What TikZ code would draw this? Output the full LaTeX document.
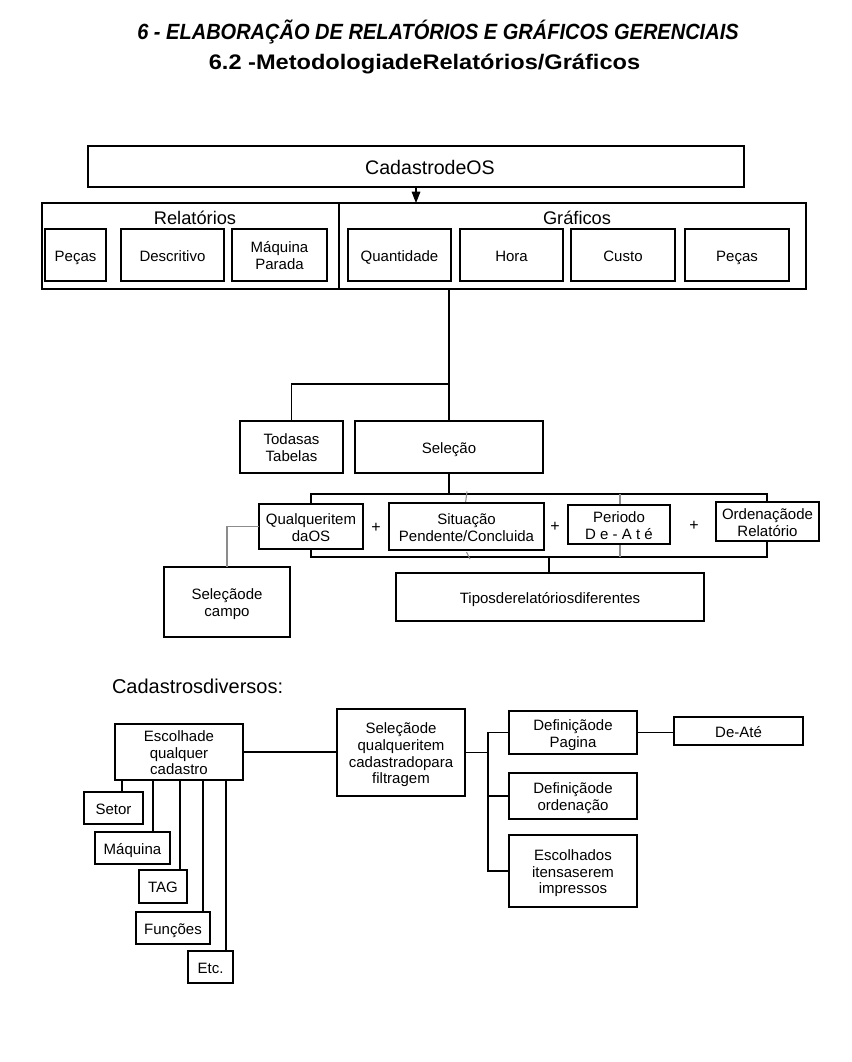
\documentclass[tikz,border=0pt]{standalone}
\usepackage{fontspec}
\setmainfont{Liberation Sans}
\usetikzlibrary{arrows.meta,calc}
\newcommand{\topstrut}{\rule{0pt}{12.2pt}}
\newcommand{\botstrut}{\rule[-3pt]{0pt}{3pt}}
\tikzset{
  box/.style={draw, fill=white, line width=0.8pt, inner sep=0pt, outer sep=0pt, align=center,
    font=\fontsize{11.25}{12.6}\selectfont},
  ln/.style={line width=0.8pt},
  gln/.style={line width=0.8pt, draw=black!45},
  lbl/.style={inner sep=0pt, outer sep=0pt},
}
\newcommand{\bx}[6]{%
  \pgfmathsetmacro\bxw{(#4-#2)*0.75}%
  \pgfmathsetmacro\bxh{(#5-#3)*0.75}%
  \node[box, minimum width=\bxw pt, minimum height=\bxh pt] (#1) at ({(#2+#4)/2},{(#3+#5)/2}) {\topstrut#6\botstrut};}
\begin{document}
\begin{tikzpicture}[x=0.75pt, y=-0.75pt]
\useasboundingbox[fill=white] (0,0) rectangle (851,1062);

% titles
\node[lbl, anchor=base, font=\fontsize{16.5}{18}\selectfont\bfseries\itshape] (t1) at (438,40)
  {\scalebox{0.91}[1]{6 - ELABORAÇÃO DE RELATÓRIOS E GRÁFICOS GERENCIAIS}};
\node[lbl, anchor=base, font=\fontsize{15.8}{18}\selectfont\bfseries] (t2) at (424.5,70)
  {\scalebox{1.12}[1]{6.2 -MetodologiadeRelatórios/Gráficos}};

% top part
\bx{cad}{88}{146}{744}{187}{}
\node[lbl, font=\fontsize{14.7}{16}\selectfont] (cadt) at (430,167) {CadastrodeOS};
\bx{big}{42}{203}{806}{289}{}
\coordinate (dv) at (339,203);
\draw[ln] (dv) -- (dv |- big.south);
\coordinate (ar) at (416,187);
\draw[ln, -{Triangle[width=6.5pt,length=8.5pt]}] (ar) -- (ar |- big.north);
\node[lbl, font=\fontsize{13.7}{15}\selectfont] (rel) at (195,218) {Relatórios};
\node[lbl, font=\fontsize{13.7}{15}\selectfont] (gra) at (577,218) {Gráficos};
\bx{p1}{45}{229}{106}{281}{Peças}
\bx{desc}{121}{229}{224}{281}{Descritivo}
\bx{maq}{232}{229}{327}{281}{Máquina\\Parada}
\bx{quant}{348}{229}{451}{281}{Quantidade}
\bx{hora}{460}{229}{563}{281}{Hora}
\bx{custo}{571}{229}{675}{281}{Custo}
\bx{p2}{685}{229}{789}{281}{Peças}

% middle part
\bx{todas}{240}{421}{343}{473}{Todasas\\Tabelas}
\bx{sel}{355}{421}{543}{473}{Seleção}
\coordinate (jct) at (449,384);
\draw[ln] (sel.north |- big.south) -- (sel.north);
\draw[ln] (jct) -| (todas.north);

\node[draw, line width=0.8pt, inner sep=0pt, outer sep=0pt, minimum width=342pt, minimum height=47.25pt] (grp) at (539,525.5) {};
\draw[ln] (sel.south) -- (sel.south |- grp.north);
\coordinate (pl) at (620,494);
\draw[gln] (pl) -- (pl |- grp.south);
\draw[gln] (467,491.5) -- (465.5,503);
\draw[gln] (466.5,552) -- (470,559);

\bx{qual}{259}{504}{363}{549}{Qualqueritem\\daOS}
\bx{sit}{389}{503}{544}{550}{Situação\\Pendente/Concluida}
\bx{per}{568}{505}{670}{544}{Periodo\\D e - A t é}
\bx{ord}{716}{502}{819}{541}{Ordenaçãode\\Relatório}
\node[lbl, font=\fontsize{12}{14}\selectfont] (pl1) at (376,528) {+};
\node[lbl, font=\fontsize{12}{14}\selectfont] (pl2) at (555,527) {+};
\node[lbl, font=\fontsize{12}{14}\selectfont] (pl3) at (694,526) {+};

\bx{campo}{164}{567}{290}{637}{Seleçãode\\campo}
\bx{tipos}{396}{573}{704}{621}{Tiposderelatóriosdiferentes}
\draw[gln] (qual.west) -| (campo.north -| 227,0);
\draw[ln] (tipos.north -| 549,0) -- (549,557);

% lower part
\node[lbl, anchor=west, font=\fontsize{15}{17}\selectfont] (cdiv) at (112,686) {Cadastrosdiversos:};
\bx{esc}{115}{724}{243}{780}{Escolhade\\qualquer\\cadastro}
\bx{setor}{84}{792}{143}{824}{Setor}
\bx{maqb}{95}{832}{170}{864}{Máquina}
\bx{tag}{139}{870}{187}{903}{TAG}
\bx{func}{136}{912}{210}{944}{Funções}
\bx{etc}{188}{951}{233}{983}{Etc.}
\coordinate (c1) at (122,780);
\coordinate (c2) at (153,780);
\coordinate (c3) at (180,780);
\coordinate (c4) at (203,780);
\coordinate (c5) at (226,780);
\draw[ln] (c1) -- (c1 |- setor.north);
\draw[ln] (c2) -- (c2 |- maqb.north);
\draw[ln] (c3) -- (c3 |- tag.north);
\draw[ln] (c4) -- (c4 |- func.north);
\draw[ln] (c5) -- (c5 |- etc.north);

\bx{selq}{337}{709}{465}{796}{Seleçãode\\qualqueritem\\cadastradopara\\filtragem}
\draw[ln] (esc.east) -- (esc.east -| selq.west);

\bx{dp}{509}{711}{637}{754}{Definiçãode\\Pagina}
\bx{dord}{509}{773}{637}{819}{Definiçãode\\ordenação}
\bx{ei}{509}{835}{637}{907}{Escolhados\\itensaserem\\impressos}
\bx{deate}{674}{717}{803}{745}{De-Até}
\coordinate (tr) at (488,752);
\draw[ln] (selq.east) -- (selq.east -| tr);
\draw[ln] (dp.west) -- (dp.west -| tr) -- (ei.west -| tr) -- (ei.west);
\draw[ln] (dord.west) -- (dord.west -| tr);
\draw[ln] (dp.east) -- (dp.east -| deate.west);
\end{tikzpicture}
\end{document}
